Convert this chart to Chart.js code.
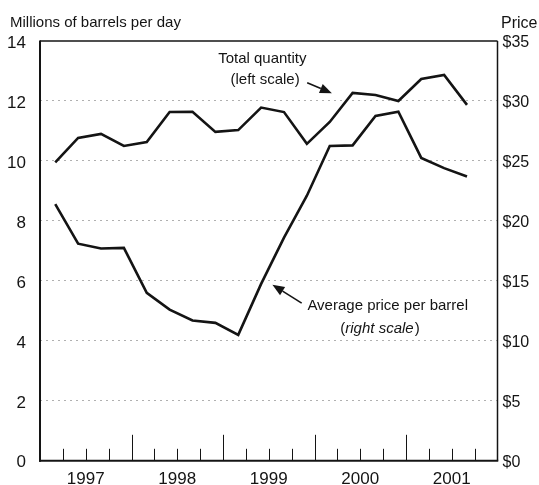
<!DOCTYPE html>
<html><head><meta charset="utf-8">
<style>html,body{margin:0;padding:0;background:#fff}#wrap{width:539px;height:485px}</style>
<script src="https://cdn.jsdelivr.net/npm/chart.js@4.4.1/dist/chart.umd.min.js"></script>
</head><body><div id="wrap"><canvas id="c" width="539" height="485"></canvas></div>
<script>
// ---- data ----
const quarters = ['1997 Q1','1997 Q2','1997 Q3','1997 Q4','1998 Q1','1998 Q2','1998 Q3','1998 Q4',
  '1999 Q1','1999 Q2','1999 Q3','1999 Q4','2000 Q1','2000 Q2','2000 Q3','2000 Q4','2001 Q1','2001 Q2','2001 Q3'];
const quantity = [9.95, 10.77, 10.9, 10.5, 10.63, 11.63, 11.64, 10.97, 11.03, 11.78,
  11.63, 10.57, 11.3, 12.27, 12.2, 12.0, 12.73, 12.87, 11.87];   // millions of barrels per day (left)
const price = [21.4, 18.1, 17.7, 17.75, 14.0, 12.6, 11.7, 11.5, 10.5, 14.75,
  18.6, 22.1, 26.25, 26.3, 28.75, 29.1, 25.25, 24.4, 23.7];       // $ per barrel (right)
const years = [1997, 1998, 1999, 2000, 2001];
const leftTicks = [0, 2, 4, 6, 8, 10, 12, 14];
const rightTicks = [0, 5, 10, 15, 20, 25, 30, 35];

const FONT = "'Liberation Sans', Arial, Helvetica, sans-serif";
const INK = '#141414';

function quarterX(label) {           // place each quarter's point near its middle month
  const [y, q] = label.split(' Q');
  return +y + (q - 1) / 4 + 1 / 6;
}

const framePlugin = {
  id: 'frame',
  afterDatasetsDraw(chart) {
    const {ctx, chartArea: a, scales: {x}} = chart;
    ctx.save();
    ctx.strokeStyle = INK;
    const seg = (x1, y1, x2, y2) => { ctx.beginPath(); ctx.moveTo(x1, y1); ctx.lineTo(x2, y2); ctx.stroke(); };
    ctx.lineWidth = 1.5;
    seg(a.left, a.top, a.right, a.top);
    seg(a.right, a.top, a.right, a.bottom);
    ctx.lineWidth = 2;
    seg(a.left, a.top - 0.5, a.left, a.bottom + 1);
    seg(a.left - 1, a.bottom, a.right + 0.75, a.bottom);
    // quarter tick marks inside the plot, taller at year boundaries
    ctx.lineWidth = 1;
    years.forEach(yr => {
      for (let q = 0; q < 4; q++) {
        const v = yr + q / 4;
        if (v === years[0]) continue;
        const px = Math.round(x.getPixelForValue(v)) + 0.5;
        seg(px, a.bottom, px, a.bottom - (q === 0 ? 26 : 12));
      }
    });
    ctx.restore();
  }
};

function arrow(ctx, x1, y1, x2, y2) {
  const ang = Math.atan2(y2 - y1, x2 - x1), L = 12, W = 4.8;
  const bx = x2 - L * Math.cos(ang), by = y2 - L * Math.sin(ang);
  ctx.beginPath(); ctx.moveTo(x1, y1); ctx.lineTo(bx, by); ctx.stroke();
  ctx.beginPath();
  ctx.moveTo(x2, y2);
  ctx.lineTo(bx + W * Math.sin(ang), by - W * Math.cos(ang));
  ctx.lineTo(bx - W * Math.sin(ang), by + W * Math.cos(ang));
  ctx.closePath(); ctx.fill();
}

const notePlugin = {
  id: 'notes',
  afterDraw(chart) {
    const {ctx, scales: {x, y}} = chart;
    const X = v => x.getPixelForValue(v), Y = v => y.getPixelForValue(v);
    ctx.save();
    ctx.fillStyle = INK; ctx.strokeStyle = INK;
    ctx.textBaseline = 'alphabetic';
    // axis titles
    ctx.font = `15px ${FONT}`;
    ctx.textAlign = 'left';
    ctx.fillText('Millions of barrels per day', 10, 27);
    ctx.font = `16px ${FONT}`;
    ctx.fillText('Price', 501, 28);
    // quantity note
    ctx.font = `15px ${FONT}`;
    ctx.textAlign = 'center';
    ctx.fillText('Total quantity', X(1999.43), Y(13.27));
    ctx.fillText('(left scale)', X(1999.46), Y(12.57));
    ctx.lineWidth = 1.6;
    arrow(ctx, X(1999.92), Y(12.61), X(2000.19), Y(12.26));
    // price note
    ctx.fillText('Average price per barrel', X(2000.80), Y(5.03));
    const cx = X(2000.71), by = Y(4.27);
    ctx.textAlign = 'left';
    ctx.font = `15px ${FONT}`;
    const wP = ctx.measureText('(').width, wC = ctx.measureText(')').width;
    ctx.font = `italic 15px ${FONT}`;
    const wI = ctx.measureText('right scale').width;
    let sx = cx - (wP + wI + wC) / 2;
    ctx.font = `15px ${FONT}`; ctx.fillText('(', sx, by);
    ctx.font = `italic 15px ${FONT}`; ctx.fillText('right scale', sx + wP, by);
    ctx.font = `15px ${FONT}`; ctx.fillText(')', sx + wP + wI + 1, by);
    arrow(ctx, X(1999.86), Y(5.26), X(1999.54), Y(5.87));
    ctx.restore();
  }
};

const lineStyle = {borderColor: INK, borderWidth: 2.6, pointRadius: 0, tension: 0, fill: false,
  borderJoinStyle: 'miter', borderCapStyle: 'butt'};

new Chart(document.getElementById('c'), {
  type: 'line',
  data: {
    datasets: [
      Object.assign({label: 'Total quantity (left scale)', yAxisID: 'y',
        data: quarters.map((q, i) => ({x: quarterX(q), y: quantity[i]}))}, lineStyle),
      Object.assign({label: 'Average price per barrel (right scale)', yAxisID: 'y1',
        data: quarters.map((q, i) => ({x: quarterX(q), y: price[i]}))}, lineStyle)
    ]
  },
  options: {
    responsive: false, animation: false, devicePixelRatio: 1,
    layout: {padding: {top: 41, left: 0, right: 0, bottom: 0}},
    plugins: {legend: {display: false}, tooltip: {enabled: false}},
    scales: {
      x: {
        type: 'linear', min: years[0], max: years[years.length - 1] + 1,
        grid: {display: false}, border: {display: false},
        afterBuildTicks: s => { s.ticks = years.map(v => ({value: v + 0.5})); },
        afterFit: s => { s.height = 24; },
        ticks: {autoSkip: false, maxRotation: 0, minRotation: 0, padding: 0, color: INK,
          font: {family: FONT, size: 17}, callback: v => String(Math.floor(v))}
      },
      y: {
        position: 'left', min: 0, max: 14,
        afterBuildTicks: s => { s.ticks = leftTicks.map(v => ({value: v})); },
        afterFit: s => { s.width = 40; },
        grid: {drawTicks: false, lineWidth: 1,
          color: c => (c.tick && (c.tick.value === 0 || c.tick.value === 14)) ? 'rgba(0,0,0,0)' : '#b0b0b0'},
        border: {display: false, dash: [2, 4]},
        ticks: {padding: 14, labelOffset: 2, color: INK, font: {family: FONT, size: 17}}
      },
      y1: {
        position: 'right', min: 0, max: 35,
        afterBuildTicks: s => { s.ticks = rightTicks.map(v => ({value: v})); },
        afterFit: s => { s.width = 41.5; },
        grid: {display: false, drawTicks: false}, border: {display: false},
        ticks: {padding: 5, labelOffset: 2, color: INK, font: {family: FONT, size: 16}, callback: v => '$' + v}
      }
    }
  },
  plugins: [framePlugin, notePlugin]
});
</script>
</body></html>
